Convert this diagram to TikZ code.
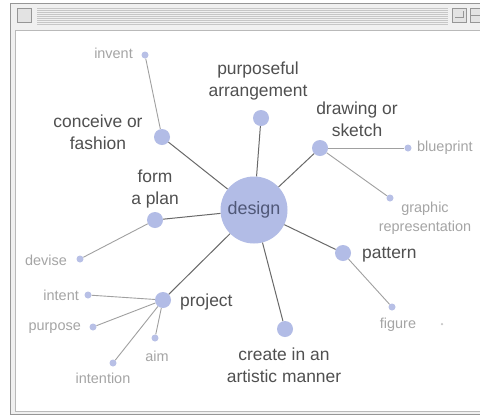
\documentclass[tikz,border=0pt]{standalone}
\usepackage{fontspec}
\setmainfont{Liberation Sans}
\definecolor{dotblue}{RGB}{178,188,230}
\definecolor{leafblue}{RGB}{184,192,230}
\definecolor{maintext}{RGB}{80,80,80}
\definecolor{subtext}{RGB}{165,165,165}
\definecolor{hubtext}{RGB}{80,88,120}
\definecolor{linegray}{RGB}{105,105,105}
\definecolor{twiggray}{RGB}{160,160,160}
\definecolor{framegray}{RGB}{150,150,150}

\begin{document}
\begin{tikzpicture}[x=1bp, y=-1bp,
        hub/.style={circle, fill=dotblue, minimum size=67bp, inner sep=0pt},
        topic/.style={circle, fill=dotblue, minimum size=16bp, inner sep=0pt},
        leaf/.style={circle, fill=leafblue, minimum size=7bp, inner sep=0pt},
        mainlbl/.style={text=maintext, font=\fontsize{17.5}{22}\selectfont, align=center, inner sep=0pt},
        sublbl/.style={text=subtext, font=\fontsize{14.5}{19}\selectfont, align=center, inner sep=0pt},
        link/.style={draw=linegray, line width=1bp},
        twig/.style={draw=twiggray, line width=0.9bp}]
            \useasboundingbox (0, 0) rectangle (480, 417);

            % window frame
            \fill[gray!12] (10, 3) rectangle (492, 415);
            \draw[framegray, line width=1.2bp] (10.5, 3.5) rectangle (492, 414.5);
            \fill[white] (15, 30) rectangle (492, 411);
            \draw[gray!55, line width=0.8bp] (15, 30) rectangle (492, 411);
            \foreach \y in {8, 10, ..., 24}
                \draw[gray!45, line width=0.5bp] (37, \y) -- (448, \y);
            \draw[framegray, fill=gray!22, line width=1bp] (17, 8) rectangle (31, 22);
            \draw[framegray, fill=gray!22, line width=1bp] (452, 8) rectangle (466, 22);
            \draw[framegray, line width=0.8bp] (455, 17) -- (463, 17) -- (463, 11);
            \draw[framegray, fill=gray!22, line width=1bp] (470, 8) rectangle (484, 22);
            \draw[framegray, line width=0.8bp] (470, 15) -- (484, 15);

            % dots
            \node[hub] (design) at (254, 210) {};
            \node[topic] (purposeful) at (261, 118) {};
            \node[topic] (drawing) at (320, 148) {};
            \node[topic] (conceive) at (162, 137) {};
            \node[topic] (plan) at (155, 220) {};
            \node[topic] (project) at (163, 300) {};
            \node[topic] (create) at (285, 329) {};
            \node[topic] (pattern) at (343, 253) {};

            \node[leaf] (blueprint) at (408, 148) {};
            \node[leaf] (graphic) at (390, 198) {};
            \node[leaf] (invent) at (145, 55) {};
            \node[leaf] (devise) at (80, 259) {};
            \node[leaf] (intent) at (88, 295) {};
            \node[leaf] (purpose) at (93, 327) {};
            \node[leaf] (aim) at (155, 338) {};
            \node[leaf] (intention) at (113, 363) {};
            \node[leaf] (figure) at (392, 307) {};
            \node[circle, fill=gray!45, minimum size=2.5bp, inner sep=0pt] (speck) at (442, 324) {};

            % connectors
            \foreach \t in {purposeful, drawing, conceive, plan, project, create, pattern}
                \draw[link] (design) -- (\t);
            \draw[twig] (drawing) -- (blueprint);
            \draw[twig] (drawing) -- (graphic);
            \draw[twig] (conceive) -- (invent);
            \draw[twig] (plan) -- (devise);
            \draw[twig] (project) -- (intent);
            \draw[twig] (project) -- (purpose);
            \draw[twig] (project) -- (aim);
            \draw[twig] (project) -- (intention);
            \draw[twig] (pattern) -- (figure);

            % labels
            \node[text=hubtext, font=\fontsize{18}{22}\selectfont] (designlbl) at (design) {design};
            \node[mainlbl] (purposefullbl) at (258, 81) {purposeful\\arrangement};
            \node[mainlbl] (drawinglbl) at (357, 119) {drawing or\\sketch};
            \node[mainlbl] (conceivelbl) at (98, 132) {conceive or\\fashion};
            \node[mainlbl] (planlbl) at (155, 189) {form\\a plan};
            \node[mainlbl, anchor=west] (projectlbl) at (180, 302) {project};
            \node[mainlbl] (createlbl) at (284, 365) {create in an\\artistic manner};
            \node[mainlbl, anchor=west] (patternlbl) at (362, 255) {pattern};

            \node[sublbl, anchor=west] (blueprintlbl) at (417, 148) {blueprint};
            \node[sublbl] (graphiclbl) at (425, 218) {graphic\\representation};
            \node[sublbl, anchor=east] (inventlbl) at (133, 53) {invent};
            \node[sublbl] (deviselbl) at (46, 260) {devise};
            \node[sublbl, anchor=east] (intentlbl) at (79, 295) {intent};
            \node[sublbl, anchor=east] (purposelbl) at (81, 328) {purpose};
            \node[sublbl] (aimlbl) at (157, 356) {aim};
            \node[sublbl] (intentionlbl) at (103, 378) {intention};
            \node[sublbl] (figurelbl) at (398, 325) {figure};
        \end{tikzpicture}
\end{document}
